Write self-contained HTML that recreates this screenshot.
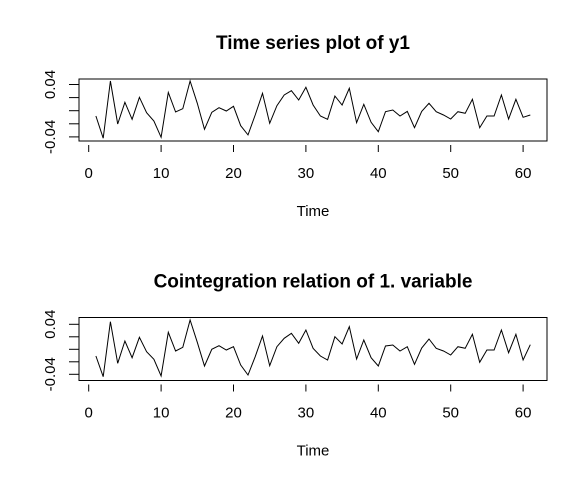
<!DOCTYPE html>
<html><head><meta charset="utf-8"><style>
body{margin:0;background:#fff}
svg{display:block;font-family:"Liberation Sans",Arial,sans-serif}
</style></head><body>
<svg id="c" width="588" height="478" viewBox="0 0 588 478"></svg>
<script>
const xTicks=[0,10,20,30,40,50,60];
const yTickVals=[-0.04,-0.02,0,0.02,0.04];
const yTickLabels=["-0.04","0.04"];
const y1Values=[-0.0081,-0.042,0.0453,-0.0203,0.0128,-0.0131,0.0205,-0.003,-0.0157,-0.0406,0.028,-0.002,0.003,0.0453,0.0113,-0.0284,-0.0025,0.0046,-0.0005,0.0067,-0.0229,-0.037,-0.0066,0.0266,-0.0193,0.0076,0.024,0.0305,0.0163,0.0357,0.0087,-0.0081,-0.0131,0.0224,0.0087,0.0342,-0.0183,0.0098,-0.0177,-0.032,-0.0015,0.001,-0.0081,-0.001,-0.026,-0.001,0.0113,-0.0015,-0.0066,-0.0127,-0.0015,-0.004,0.0174,-0.026,-0.0081,-0.0081,0.024,-0.0127,0.0174,-0.0101,-0.0066];
const cointValues=[-0.0107,-0.0438,0.0442,-0.0224,0.0133,-0.0134,0.0192,-0.0038,-0.016,-0.0427,0.0272,-0.0027,0.0032,0.0469,0.0112,-0.0267,0,0.0058,-0.0011,0.0042,-0.0251,-0.0411,-0.0118,0.0213,-0.0262,0.0042,0.0176,0.0256,0.0096,0.0309,0.0016,-0.0107,-0.0171,0.0202,0.0085,0.0362,-0.0155,0.0149,-0.0134,-0.0267,0.0053,0.0069,-0.0027,0.0042,-0.024,0.0021,0.0165,0.0016,-0.0027,-0.0091,0.0042,0.0016,0.024,-0.0208,-0.0011,-0.0011,0.0309,-0.0054,0.024,-0.0171,0.0074];

const svg=document.getElementById('c');
const NS='http://www.w3.org/2000/svg';
function mk(tag,attrs,parent){const e=document.createElementNS(NS,tag);for(const k in attrs)e.setAttribute(k,attrs[k]);(parent||svg).appendChild(e);return e;}
const xScale=v=>88.7+7.24*v;

function panel(p){
  const g=mk('g',{});
  
  
  const yScale=v=>p.zero-v*p.k;
  const t=mk('text',{x:313,y:p.top-30,'text-anchor':'middle','font-size':'19','font-weight':'bold'},g);
  t.textContent=p.title;
  
  
  const box=mk('rect',{x:79,y:p.top,width:468,height:p.bottom-p.top,fill:'none',stroke:'#000','stroke-width':1},g);
  
  
  const xa=mk('g',{},g);
  
  
  xTicks.forEach(v=>{
    mk('line',{x1:xScale(v),x2:xScale(v),y1:p.xAxisY,y2:p.xAxisY+7,stroke:'#000'},xa);
    const l=mk('text',{x:xScale(v),y:p.xAxisY+33,'text-anchor':'middle','font-size':'15'},xa);
    l.textContent=v;
    
    
  });
  const xt=mk('text',{x:313,y:p.xAxisY+71,'text-anchor':'middle','font-size':'15'},g);
  xt.textContent='Time';
  
  
  const ya=mk('g',{},g);
  
  
  yTickVals.forEach(v=>{
    mk('line',{x1:69,x2:79,y1:yScale(v),y2:yScale(v),stroke:'#000'},ya);
  });
  yTickLabels.forEach(s=>{
    const yy=yScale(parseFloat(s));
    const l=mk('text',{x:0,y:0,'text-anchor':'middle','font-size':'15',transform:`translate(55,${yy}) rotate(-90)`},ya);
    l.textContent=s;
    
    
  });
  const pts=p.data.map((v,i)=>xScale(i+1).toFixed(1)+','+yScale(v).toFixed(1)).join(' ');
  const line=mk('polyline',{points:pts,fill:'none',stroke:'#000','stroke-width':1},g);
  
  
}
panel({name:'time-series-panel',title:'Time series plot of y1',top:79,bottom:141,zero:110.7,k:655,xAxisY:145,data:y1Values});
panel({name:'cointegration-panel',title:'Cointegration relation of 1. variable',top:317.5,bottom:380.5,zero:349.3,k:625,xAxisY:384.5,data:cointValues});
</script>
</body></html>
